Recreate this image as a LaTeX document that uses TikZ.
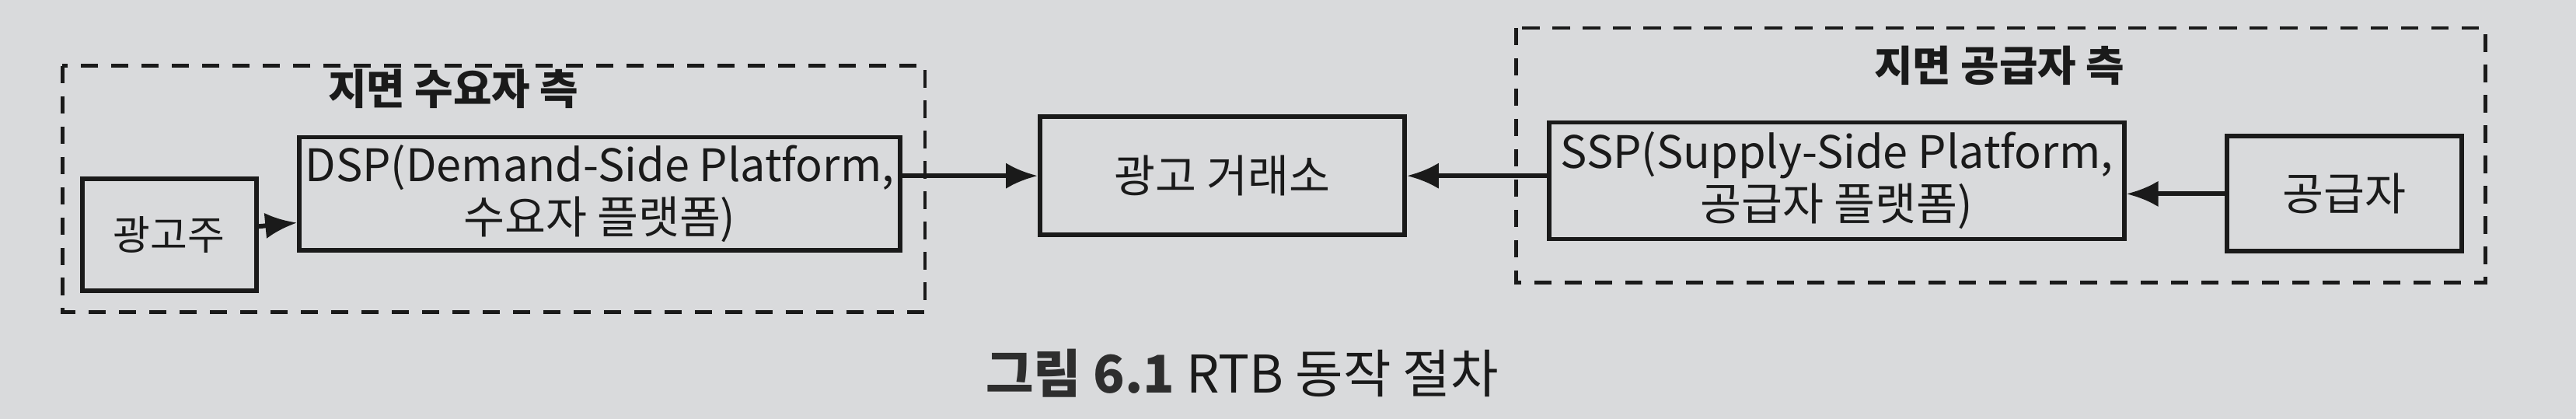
\documentclass[tikz,border=0pt]{standalone}
\usepackage{fontspec}
\setmainfont{Noto Sans CJK KR}
\usetikzlibrary{arrows.meta}
\definecolor{bgcol}{HTML}{D9DADC}
\definecolor{ink}{HTML}{1A1A1A}
\definecolor{capcol}{HTML}{2E2E2E}
\tikzset{
  box/.style={draw=ink, line width=1.6pt, fill=none, align=center, inner sep=2pt,
    text=ink, font=\fontsize{15.5}{18}\selectfont},
  grp/.style={draw=ink, line width=1.3pt, dash pattern=on 6pt off 4.5pt},
  grptitle/.style={text=ink, font=\fontsize{14.5}{17}\selectfont\bfseries},
  flow/.style={draw=ink, line width=1.6pt, -{Latex[length=11pt,width=9pt]}},
}
\begin{document}
\begin{tikzpicture}[x=0.02cm,y=-0.02cm]
\fill[bgcol] (0,0) rectangle (1568,255);
\useasboundingbox (0,0) rectangle (1568,255);

% groups
\draw[grp] (38,40) rectangle (563,190);
\draw[grp] (923,17) rectangle (1513,172);
\node[grptitle] (tl) at (276,54) {지면 수요자 측};
\node[grptitle] (tr) at (1217,40) {지면 공급자 측};

% nodes
\node[box, minimum width=2.12cm, minimum height=1.36cm, font=\fontsize{14}{16}\selectfont] (adv) at (103,143) {광고주};
\node[box, minimum width=6.94cm, minimum height=1.38cm] (dsp) at (365,118) {DSP(Demand-Side Platform,\\수요자 플랫폼)};
\node[box, minimum width=4.44cm, minimum height=1.44cm] (exch) at (744,107) {광고 거래소};
\node[box, minimum width=7.0cm, minimum height=1.42cm] (ssp) at (1118,110) {SSP(Supply-Side Platform,\\공급자 플랫폼)};
\node[box, minimum width=2.86cm, minimum height=1.40cm] (sup) at (1427,118) {공급자};

% connectors
\draw[flow] (adv) -- (dsp);
\draw[flow] (dsp.east |- exch.west) -- (exch.west);
\draw[flow] (ssp.west |- exch.east) -- (exch.east);
\draw[flow] (sup.west) -- (ssp.east |- sup.west);

% caption
\node[text=ink, font=\fontsize{18}{20}\selectfont] (cap) at (756,227)
  {\textcolor{capcol}{\bfseries 그림 6.1} RTB 동작 절차};
\end{tikzpicture}
\end{document}
